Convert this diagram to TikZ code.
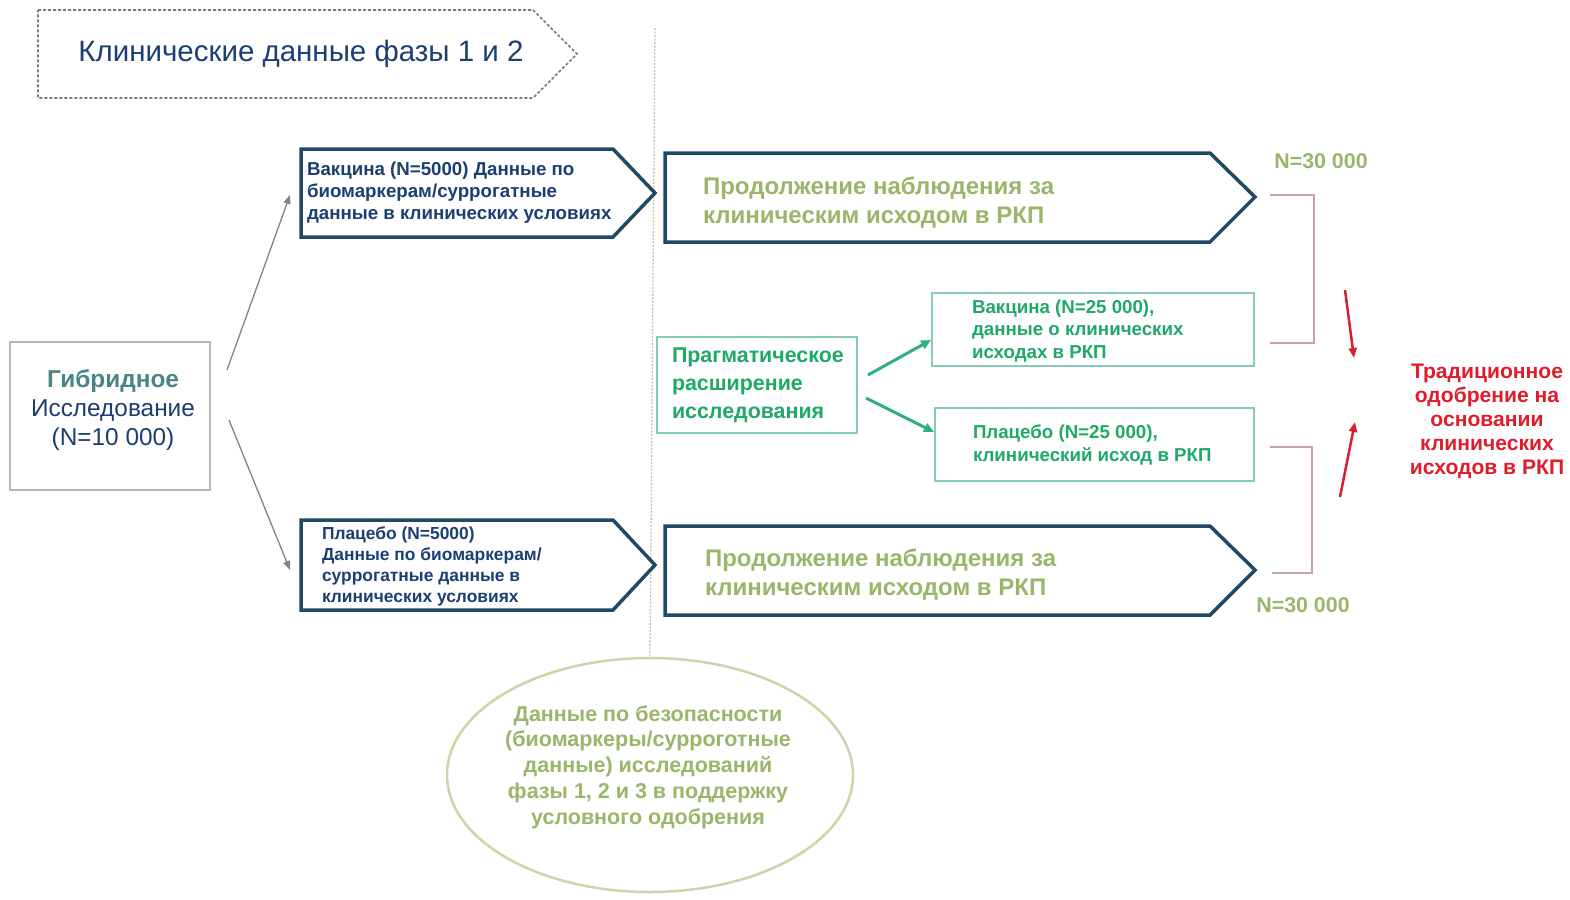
\documentclass[tikz,border=0pt]{standalone}
\usepackage{fontspec}
\setmainfont{Liberation Sans}
\usetikzlibrary{arrows.meta,shapes.geometric}
\definecolor{navy}{HTML}{1E4A66}
\definecolor{darkblue}{HTML}{1B3F73}
\definecolor{tealtxt}{HTML}{4A8585}
\definecolor{olive}{HTML}{9BB66B}
\definecolor{greentxt}{HTML}{1FA968}
\definecolor{tealborder}{HTML}{86CBB8}
\definecolor{greenarr}{HTML}{2FB37A}
\definecolor{redtxt}{HTML}{E01C2A}
\definecolor{redarr}{HTML}{D42030}
\definecolor{bracketcol}{HTML}{C9A3A8}
\definecolor{dividercol}{HTML}{C9C0A6}
\definecolor{ellcol}{HTML}{CFD3A8}
\definecolor{titleborder}{HTML}{6C7D8C}
\definecolor{grayarr}{HTML}{7A8590}
\definecolor{hybborder}{HTML}{B0B8BC}
\begin{document}
\begin{tikzpicture}[x=1pt,y=-1pt,
  titleframe/.style={draw=titleborder, line width=1.6pt, dash pattern=on 3pt off 2pt, fill=white},
  navyframe/.style={draw=navy, line width=3.5pt, line join=miter, fill=white},
  lbl/.style={inner sep=0pt, outer sep=0pt},
  bluebold/.style={lbl, text=darkblue, font=\bfseries\fontsize{18.7}{22}\selectfont, align=left, anchor=west},
  bigolive/.style={lbl, text=olive, font=\bfseries\fontsize{24}{29}\selectfont, align=left, anchor=west},
  greenbold/.style={lbl, text=greentxt, font=\bfseries\fontsize{18.7}{22.5}\selectfont, align=left, anchor=west},
  tealbox/.style={draw=tealborder, line width=2pt, fill=white, inner sep=0pt},
  grayconn/.style={draw=grayarr, line width=1.3pt, -{Triangle[length=9pt,width=7pt]}},
  greenconn/.style={draw=greenarr, line width=3pt, -{Triangle[length=10pt,width=9pt]}},
  redconn/.style={draw=redarr, line width=2.5pt, -{Triangle[length=10pt,width=8pt]}},
  bracket/.style={draw=bracketcol, line width=1.5pt},
  nlabel/.style={lbl, text=olive, font=\bfseries\fontsize{21.4}{24}\selectfont}
]
\useasboundingbox (0,0) rectangle (1570,899);

% divider
\coordinate (divtop) at (655,28);
\node[ellipse, draw=ellcol, line width=2.5pt, fill=white, minimum width=406pt, minimum height=234pt, inner sep=0pt] (safety) at (650,775) {};
\draw[draw=dividercol, line width=1.3pt, dash pattern=on 2pt off 1.5pt] (divtop) -- (safety.north);

% title
\draw[titleframe] (38,10) -- (533,10) -- (577,54) -- (533,98) -- (38,98) -- cycle;
\node[lbl, text=darkblue, font=\fontsize{29.5}{34}\selectfont] (title) at (301,54) {Клинические данные фазы 1 и 2};

% hybrid
\node[draw=hybborder, line width=2pt, fill=white, minimum width=200pt, minimum height=148pt, inner sep=0pt] (hyb) at (110,416) {};
\node[lbl, align=center, font=\fontsize{24.4}{29}\selectfont, text=darkblue] (hybt) at (113,410)
  {\textcolor{tealtxt}{\bfseries Гибридное}\\Исследование\\(N=10 000)};

% vaccine / placebo pentagons
\draw[navyframe] (301,149) -- (613,149) -- (655,193) -- (613,237) -- (301,237) -- cycle;
\coordinate (vacin) at (290,195);
\node[bluebold, fill=white, inner sep=1pt] (vact) at (306,193)
  {Вакцина (N=5000) Данные по\\биомаркерам/суррогатные\\данные в клинических условиях};

\draw[navyframe] (301,520) -- (613,520) -- (655,565) -- (613,610) -- (301,610) -- cycle;
\coordinate (placin) at (290,570);
\node[bluebold, fill=white, inner sep=1pt, font=\bfseries\fontsize{17.4}{21}\selectfont] (plact) at (321,566)
  {Плацебо (N=5000)\\Данные по биомаркерам/\\суррогатные данные в\\клинических условиях};

\coordinate (hybup) at (227,370);
\coordinate (hybdn) at (229,420);
\draw[grayconn] (hybup) -- (vacin);
\draw[grayconn] (hybdn) -- (placin);

% big pentagons
\draw[navyframe] (665,153) -- (1210,153) -- (1255,197) -- (1210,242) -- (665,242) -- cycle;
\node[bigolive] (contt) at (703,203) {Продолжение наблюдения за\\клиническим исходом в РКП};

\draw[navyframe] (665,526) -- (1210,526) -- (1255,570) -- (1210,615) -- (665,615) -- cycle;
\node[bigolive] (contb) at (705,575) {Продолжение наблюдения за\\клиническим исходом в РКП};

% pragmatic
\node[tealbox, minimum width=200pt, minimum height=96pt] (prag) at (757,385) {};
\node[lbl, text=greentxt, font=\bfseries\fontsize{21.4}{28}\selectfont, align=left, anchor=west] (pragt) at (672,385)
  {Прагматическое\\расширение\\исследования};

\node[tealbox, minimum width=322pt, minimum height=73pt] (vac25) at (1093,329.5) {};
\node[greenbold] (vac25t) at (972,331) {Вакцина (N=25 000),\\данные о клинических\\исходах в РКП};

\node[tealbox, minimum width=319pt, minimum height=73pt] (plac25) at (1094.5,444.5) {};
\node[greenbold] (plac25t) at (973,445) {Плацебо (N=25 000),\\клинический исход в РКП};

\coordinate (pragup) at (868,375);
\coordinate (pragdn) at (866,398);
\draw[greenconn] (pragup) -- (vac25.west |- 0,340);
\draw[greenconn] (pragdn) -- (plac25.west |- 0,432);

% N labels
\node[nlabel] (ntop) at (1321,161) {N=30 000};
\node[nlabel] (nbot) at (1303,605) {N=30 000};

% brackets
\draw[bracket] (1270,195) -- (1314,195) -- (1314,343) -- (1270,343);
\draw[bracket] (1270,447) -- (1312,447) -- (1312,573) -- (1272,573);

% red arrows and text
\node[lbl, text=redtxt, font=\bfseries\fontsize{21.1}{24}\selectfont, align=center] (trad) at (1487,421)
  {Традиционное\\одобрение на\\основании\\клинических\\исходов в РКП};
\coordinate (redst1) at (1345,290);
\coordinate (redend1) at (1354,358);
\coordinate (redst2) at (1340,497);
\coordinate (redend2) at (1355,422);
\draw[redconn] (redst1) -- (redend1);
\draw[redconn] (redst2) -- (redend2);

% safety text
\node[lbl, text=olive, font=\bfseries\fontsize{21.5}{25.7}\selectfont, align=center] (safetyt) at (648,767)
  {Данные по безопасности\\(биомаркеры/сурроготные\\данные) исследований\\фазы 1, 2 и 3 в поддержку\\условного одобрения};
\end{tikzpicture}
\end{document}
